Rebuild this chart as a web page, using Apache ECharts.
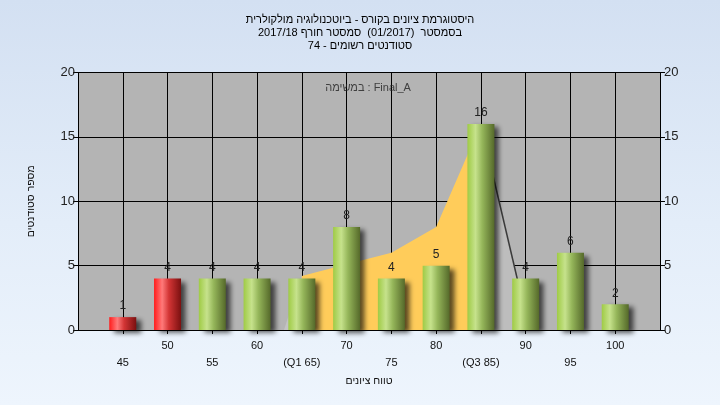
<!DOCTYPE html>
<html>
<head>
<meta charset="utf-8">
<script src="https://cdn.jsdelivr.net/npm/echarts@6/dist/echarts.min.js"></script>
<style>
html,body{margin:0;padding:0;}
#c{width:720px;height:405px;background:linear-gradient(180deg,#d3e0f2 0%,#e3edf9 55%,#eef5fd 100%);}
</style>
</head>
<body>
<div id="c"></div>
<script>
// ---- data ----
const titleLines = [
  'היסטוגרמת ציונים בקורס - ביוטכנולוגיה מולקולרית',
  'בסמסטר  (01/2017)  סמסטר חורף 2017/18',
  'סטודנטים רשומים - 74'
];
const taskText = 'במשימה : Final_A';
const xAxisName = 'טווח ציונים';
const yAxisName = 'מספר סטודנטים';
const binCenters = [45, 50, 55, 60, 65, 70, 75, 80, 85, 90, 95, 100];
const counts = [1, 4, 4, 4, 4, 8, 4, 5, 16, 4, 6, 2];
const failing = [true, true, false, false, false, false, false, false, false, false, false, false];
const xTickLabels = {45:'45',50:'50',55:'55',60:'60',65:'(Q1 65)',70:'70',75:'75',80:'80',85:'(Q3 85)',90:'90',95:'95',100:'100'};
const iqrX = [65, 70, 75, 80, 85];
const iqrY = [4.2, 5.1, 6.0, 8.0, 16];
const lowTailX = [63, 65];
const lowTailY = [0, 4.2];
const highTailX = [85, 90.4];
const highTailY = [16, 0];
const taskPos = [72.4, 18.8];

// ---- styles ----
function grad(stops){
  return {type:'linear',x:0,y:0,x2:1,y2:0,colorStops:stops.map(s=>({offset:s[0],color:s[1]}))};
}
const greenGrad = grad([[0,'#9fcb45'],[0.3,'#c6e28c'],[0.55,'#95b65a'],[1,'#55692a']]);
const redGrad = grad([[0,'#ff1c1c'],[0.3,'#ff7a7a'],[0.55,'#d33535'],[1,'#7a1010']]);
const font = '"Liberation Sans", Arial, sans-serif';

const chart = echarts.init(document.getElementById('c'), null, {renderer:'canvas'});
chart.setOption({
  backgroundColor: 'transparent',
  animation: false,
  title: {
    text: titleLines.join('\n'),
    left: 'center', top: 8,
    textStyle: {fontSize: 11, fontWeight: 'normal', color: '#000', fontFamily: font, lineHeight: 13}
  },
  grid: {left: 78, right: 60, top: 72.5, bottom: 75, show: true, backgroundColor: '#b4b4b4', borderWidth: 0},
  xAxis: {
    type: 'value', min: 40, max: 105, interval: 5,
    name: xAxisName, nameLocation: 'middle', nameGap: 46,
    nameTextStyle: {fontSize: 10.5, color: '#111', fontFamily: font},
    axisLine: {show: true, lineStyle: {color: '#000', width: 1}},
    axisTick: {show: true, length: 4, lineStyle: {color: '#000'}},
    splitLine: {show: true, lineStyle: {color: '#000', width: 1}},
    axisLabel: {
      margin: 7, fontSize: 11, color: '#111', fontFamily: font, lineHeight: 17,
      showMinLabel: false, showMaxLabel: false,
      formatter: function(v){
        const t = xTickLabels[v];
        if (!t) return '';
        return (v % 10 === 0) ? t : '\n' + t;
      }
    }
  },
  yAxis: [{
    type: 'value', min: 0, max: 20, interval: 5, position: 'left',
    name: yAxisName, nameLocation: 'middle', nameGap: 41, nameRotate: 90,
    nameTextStyle: {fontSize: 10.5, color: '#111', fontFamily: font},
    axisLine: {show: true, lineStyle: {color: '#000'}},
    axisTick: {show: true, length: 5, lineStyle: {color: '#000'}},
    splitLine: {show: true, lineStyle: {color: '#000', width: 1}},
    axisLabel: {fontSize: 13, color: '#222', fontFamily: font, margin: 3}
  }, {
    type: 'value', min: 0, max: 20, interval: 5, position: 'right',
    axisLine: {show: true, lineStyle: {color: '#000'}},
    axisTick: {show: true, length: 5, lineStyle: {color: '#000'}},
    splitLine: {show: false},
    axisLabel: {fontSize: 13, color: '#222', fontFamily: font, margin: 4}
  }],
  series: [
    {
      type: 'line', z: 1, silent: true, symbol: 'none',
      data: lowTailX.map((x,i)=>[x, lowTailY[i]]),
      lineStyle: {width: 0},
      areaStyle: {color: '#c3c3c3', opacity: 1}
    },
    {
      type: 'line', z: 1, silent: true, symbol: 'none',
      data: highTailX.map((x,i)=>[x, highTailY[i]]),
      lineStyle: {width: 1.5, color: '#3a3a3a'},
      areaStyle: {color: '#bdbdbd', opacity: 1}
    },
    {
      type: 'line', z: 2, silent: true, symbol: 'none',
      data: iqrX.map((x,i)=>[x, iqrY[i]]),
      lineStyle: {width: 0},
      areaStyle: {color: '#ffcc5a', opacity: 1}
    },
    {
      type: 'bar', z: 5, barWidth: 27,
      data: binCenters.map((x,i)=>({
        value: [x, counts[i]],
        itemStyle: {color: failing[i] ? redGrad : greenGrad}
      })),
      itemStyle: {shadowColor: 'rgba(0,0,0,0.65)', shadowBlur: 5, shadowOffsetX: 5, shadowOffsetY: 3},
      label: {show: true, position: 'top', distance: 5, fontSize: 12, color: '#222', fontFamily: font,
        formatter: p => String(p.value[1])}
    },
    {
      type: 'scatter', z: 6, silent: true, symbolSize: 0,
      data: [taskPos],
      label: {show: true, position: 'inside', formatter: taskText, fontSize: 11, color: '#222', fontFamily: font}
    }
  ]
});
</script>
</body>
</html>
